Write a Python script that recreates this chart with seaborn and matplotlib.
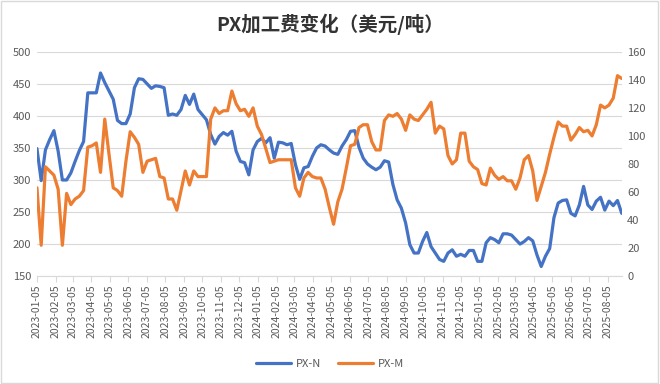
import pandas as pd
import matplotlib
matplotlib.use('Agg')
import matplotlib.pyplot as plt
import matplotlib.dates as mdates
import seaborn as sns

# Dati settimanali
start_date = '2023-01-05'

px_n = [349, 299, 347, 363, 377, 345, 300, 300, 311, 329, 346, 360, 436, 436, 436, 467, 452, 439, 426, 393,
        388, 388, 403, 444, 458, 457, 450, 443, 447, 446, 444, 401, 403, 401, 410, 432, 418, 434, 410, 402,
        394, 371, 356, 368, 374, 370, 376, 345, 329, 327, 308, 347, 360, 365, 358, 366, 334, 359, 358, 355,
        357, 324, 301, 319, 321, 337, 350, 355, 353, 347, 342, 340, 353, 363, 376, 377, 351, 334, 325, 320,
        316, 320, 330, 328, 293, 269, 256, 233, 199, 186, 186, 204, 218, 196, 186, 176, 173, 186, 191, 181,
        184, 181, 190, 190, 173, 173, 202, 210, 207, 202, 216, 216, 214, 207, 200, 204, 210, 205, 183, 165,
        181, 193, 241, 264, 268, 269, 248, 244, 261, 290, 261, 254, 267, 273, 253, 267, 260, 268, 248]

px_m = [63, 22, 78, 75, 72, 62, 22, 59, 51, 55, 57, 61, 92, 93, 95, 74, 112, 87, 63, 61,
        57, 82, 103, 99, 94, 74, 82, 83, 84, 71, 70, 55, 55, 47, 61, 75, 65, 75, 71, 71,
        71, 112, 120, 116, 118, 118, 132, 123, 118, 119, 114, 120, 107, 101, 91, 81, 82, 83, 83, 83,
        83, 63, 57, 70, 74, 71, 70, 70, 62, 49, 37, 53, 62, 77, 93, 94, 106, 108, 108, 96,
        90, 90, 111, 115, 114, 116, 112, 104, 115, 112, 111, 115, 119, 124, 102, 107, 105, 86, 80, 83,
        102, 102, 82, 78, 76, 66, 65, 77, 72, 69, 71, 68, 68, 62, 70, 83, 86, 75, 54, 64,
        74, 87, 99, 110, 107, 107, 97, 101, 106, 103, 104, 100, 108, 122, 120, 122, 127, 143, 141]

dates = pd.date_range(start_date, periods=len(px_n), freq='7D')
df = pd.DataFrame({'date': dates, 'PX-N': px_n, 'PX-M': px_m})

BLUE = '#4472C4'
ORANGE = '#ED7D31'
GRAY = '#595959'
GRID = '#D9D9D9'

sns.set_style('white')
plt.rcParams['font.family'] = ['Noto Sans CJK SC', 'DejaVu Sans']

fig = plt.figure(figsize=(6.6, 3.84), dpi=100)
ax = fig.add_axes([0.056, 0.281, 0.886, 0.584])
ax2 = ax.twinx()

sns.lineplot(x='date', y='PX-N', data=df, ax=ax, color=BLUE, linewidth=2.3, label='PX-N', legend=False)
sns.lineplot(x='date', y='PX-M', data=df, ax=ax2, color=ORANGE, linewidth=2.3, label='PX-M', legend=False)

# Asse sinistro
ax.set_ylim(150, 500)
ax.set_yticks(range(150, 501, 50))
ax.yaxis.grid(True, color=GRID, linewidth=0.8)
ax.set_axisbelow(True)
ax.set_ylabel('')
ax.set_xlabel('')

# Asse destro
ax2.set_ylim(0, 160)
ax2.set_yticks(range(0, 161, 20))
ax2.set_ylabel('')

# Asse x con etichette mensili
ticks = pd.date_range('2023-01-01', '2025-08-01', freq='MS') + pd.Timedelta(days=4)
ax.set_xlim(dates[0], dates[-1])
ax.set_xticks(ticks)
ax.xaxis.set_major_formatter(mdates.DateFormatter('%Y-%m-%d'))
for lbl in ax.get_xticklabels():
    lbl.set_rotation(90)

for a in (ax, ax2):
    for s in a.spines.values():
        s.set_visible(False)
    a.tick_params(axis='y', length=0, labelsize=8, colors=GRAY, pad=4)
ax.spines['bottom'].set_visible(True)
ax.spines['bottom'].set_color(GRID)
ax.tick_params(axis='x', length=4, width=0.8, color=GRID, labelsize=7.5, labelcolor=GRAY, pad=2, direction='out')
ax.tick_params(axis='x', which='both', bottom=True)

fig.suptitle('PX加工费变化（美元/吨）', y=0.965, fontsize=14, fontweight='bold', color='#333333')

h1, l1 = ax.get_legend_handles_labels()
h2, l2 = ax2.get_legend_handles_labels()
fig.legend(h1 + h2, l1 + l2, loc='center', bbox_to_anchor=(0.5, 0.052), ncol=2, frameon=False,
           fontsize=8, labelcolor=GRAY, handlelength=3.2, columnspacing=1.5, handletextpad=0.4)

# Bordo esterno
fig.patches.append(plt.Rectangle((0.002, 0.003), 0.995, 0.994, transform=fig.transFigure,
                                 fill=False, edgecolor=GRID, linewidth=1))

plt.savefig('out.png', dpi=100)
